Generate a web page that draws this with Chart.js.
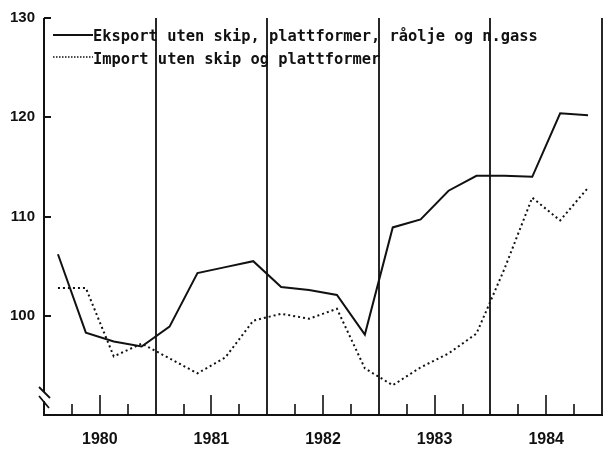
<!DOCTYPE html>
<html>
<head>
<meta charset="utf-8">
<script src="https://cdn.jsdelivr.net/npm/chart.js@4/dist/chart.umd.min.js"></script>
<style>
  html, body { margin: 0; padding: 0; background: #fff; }
  #wrap { width: 608px; height: 452px; }
</style>
</head>
<body>
<div id="wrap"><canvas id="c" width="608" height="452"></canvas></div>
<script>
// Quarterly volume indices, 1980 Q1 – 1984 Q4
const years = [1980, 1981, 1982, 1983, 1984];
const quarters = [1, 2, 3, 4];
const yTicks = [100, 110, 120, 130];

const exportLabel = 'Eksport uten skip, plattformer, råolje og n.gass';
const importLabel = 'Import uten skip og plattformer';

const exportValues = [106.2, 98.3, 97.4, 96.9,  98.9, 104.3, 104.9, 105.5,
                      102.9, 102.6, 102.1, 98.1, 108.9, 109.7, 112.6, 114.1,
                      114.1, 114.0, 120.4, 120.2];
const importValues = [102.8, 102.8, 95.9, 97.2, 95.7, 94.2, 95.8, 99.5,
                      100.2, 99.7, 100.7, 94.7, 93.0, 94.8, 96.2, 98.2,
                      104.7, 111.9, 109.6, 112.9];

// each quarter is placed at its midpoint on a continuous time axis
const quarterX = [];
years.forEach(y => quarters.forEach(q => quarterX.push(y + (q - 0.5) / 4)));
const toPoints = vals => vals.map((v, i) => ({ x: quarterX[i], y: v }));

const INK = '#111';

// axes, break mark, year dividers and tick marks
const framePlugin = {
  id: 'frame',
  beforeDatasetsDraw(chart) {
    const { ctx, chartArea: a, scales: { x, y } } = chart;
    ctx.save();
    ctx.strokeStyle = INK;
    ctx.lineCap = 'butt';

    // left axis with a break near the bottom
    ctx.lineWidth = 2;
    ctx.beginPath();
    ctx.moveTo(a.left, a.top);
    ctx.lineTo(a.left, a.bottom - 23);
    ctx.moveTo(a.left, a.bottom - 14);
    ctx.lineTo(a.left, a.bottom);
    ctx.stroke();
    ctx.lineWidth = 1.8;
    ctx.beginPath();
    ctx.moveTo(a.left - 5, a.bottom - 28); ctx.lineTo(a.left + 6, a.bottom - 17);
    ctx.moveTo(a.left - 5, a.bottom - 19); ctx.lineTo(a.left + 5, a.bottom - 7);
    ctx.stroke();

    // bottom axis
    ctx.lineWidth = 2;
    ctx.beginPath();
    ctx.moveTo(a.left - 1, a.bottom);
    ctx.lineTo(a.right + 1, a.bottom);
    ctx.stroke();

    // year dividers and right edge
    ctx.lineWidth = 1.8;
    ctx.beginPath();
    years.slice(1).concat([years[years.length - 1] + 1]).forEach(yr => {
      const px = Math.round(x.getPixelForValue(yr));
      ctx.moveTo(px, a.top);
      ctx.lineTo(px, a.bottom);
    });
    ctx.stroke();

    // quarter ticks on the time axis (mid-year tick is taller)
    ctx.lineWidth = 1.6;
    ctx.beginPath();
    years.forEach(yr => {
      [1, 2, 3].forEach(q => {
        const px = Math.round(x.getPixelForValue(yr + q / 4));
        const len = q === 2 ? 20 : 11;
        ctx.moveTo(px, a.bottom);
        ctx.lineTo(px, a.bottom - len);
      });
    });
    ctx.stroke();

    // value ticks pointing into the plot
    ctx.lineWidth = 2;
    ctx.beginPath();
    yTicks.forEach(v => {
      const py = Math.round(y.getPixelForValue(v));
      ctx.moveTo(a.left, py);
      ctx.lineTo(a.left + 7, py);
    });
    ctx.stroke();
    ctx.restore();
  }
};

// series key in the upper left corner
const keyPlugin = {
  id: 'key',
  afterDraw(chart) {
    const { ctx } = chart;
    const rows = [
      { ds: chart.data.datasets[0], base: 41, lineY: 35 },
      { ds: chart.data.datasets[1], base: 63.5, lineY: 57 }
    ];
    ctx.save();
    rows.forEach((r, i) => {
      ctx.strokeStyle = INK;
      ctx.lineWidth = i === 0 ? 2 : 1.5;
      ctx.setLineDash(i === 0 ? [] : [1.5, 1.5]);
      ctx.beginPath();
      ctx.moveTo(53, r.lineY);
      ctx.lineTo(93, r.lineY);
      ctx.stroke();
      ctx.setLineDash([]);
      ctx.fillStyle = INK;
      ctx.font = 'bold 15.4px "DejaVu Sans Mono"';
      ctx.textBaseline = 'alphabetic';
      ctx.textAlign = 'left';
      ctx.fillText(r.ds.label, 93, r.base);
    });
    ctx.restore();
  }
};

new Chart(document.getElementById('c'), {
  type: 'line',
  data: {
    datasets: [
      {
        label: exportLabel,
        data: toPoints(exportValues),
        borderColor: INK,
        borderWidth: 2,
        pointRadius: 0,
        tension: 0,
        fill: false
      },
      {
        label: importLabel,
        data: toPoints(importValues),
        borderColor: INK,
        borderWidth: 2,
        borderDash: [2, 3],
        pointRadius: 0,
        tension: 0,
        fill: false
      }
    ]
  },
  options: {
    responsive: false,
    animation: false,
    devicePixelRatio: 1,
    layout: { padding: { left: 0, right: 6, top: 16, bottom: 0 } },
    plugins: { legend: { display: false }, tooltip: { enabled: false } },
    scales: {
      x: {
        type: 'linear',
        min: years[0],
        max: years[years.length - 1] + 1,
        afterBuildTicks: s => { s.ticks = years.map(yr => ({ value: yr + 0.5 })); },
        afterFit: s => { s.height = 37; },
        grid: { display: false, drawTicks: false },
        border: { display: false },
        ticks: {
          autoSkip: false,
          maxRotation: 0,
          padding: 15,
          color: INK,
          font: { family: 'Liberation Sans', size: 16, weight: 'bold' },
          callback: v => String(Math.floor(v))
        }
      },
      y: {
        min: 90,
        max: 130,
        afterBuildTicks: s => { s.ticks = yTicks.map(v => ({ value: v })); },
        afterFit: s => { s.width = 44; },
        grid: { display: false, drawTicks: false },
        border: { display: false },
        ticks: {
          padding: 9,
          color: INK,
          font: { family: 'Liberation Sans', size: 15, weight: 'bold' }
        }
      }
    }
  },
  plugins: [framePlugin, keyPlugin]
});
</script>
</body>
</html>
